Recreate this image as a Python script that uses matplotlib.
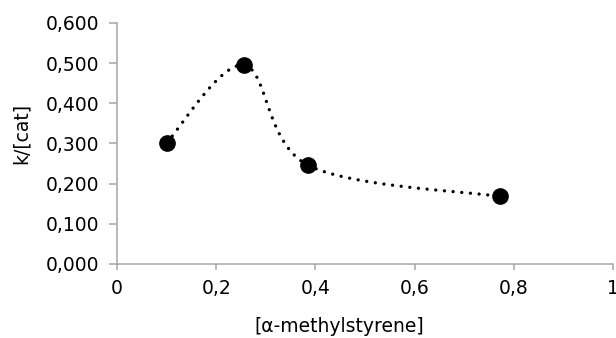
import numpy as np
import matplotlib
matplotlib.use("Agg")
import matplotlib.pyplot as plt
from matplotlib.ticker import FuncFormatter, MultipleLocator

plt.rcParams['font.family'] = ['DejaVu Sans']

# data
conc = [0.10, 0.256, 0.385, 0.772]
k_cat = [0.302, 0.495, 0.246, 0.168]


def excel_smooth(ax, xs, ys, n=40):
    # Excel style smoothed line: bezier segments with catmull-rom control points,
    # computed in display space so the shape follows the axes aspect
    pts = ax.transData.transform(np.column_stack([xs, ys]))
    m = len(pts)
    out = []
    for i in range(m - 1):
        p0 = pts[i - 1] if i > 0 else pts[i]
        p1 = pts[i]
        p2 = pts[i + 1]
        p3 = pts[i + 2] if i + 2 < m else pts[i + 1]
        c1 = p1 + (p2 - p0) / 6.0
        c2 = p2 - (p3 - p1) / 6.0
        t = np.linspace(0, 1, n)[:, None]
        seg = ((1 - t) ** 3) * p1 + 3 * ((1 - t) ** 2) * t * c1 + 3 * (1 - t) * t ** 2 * c2 + t ** 3 * p2
        out.append(seg if i == 0 else seg[1:])
    out = np.vstack(out)
    return ax.transData.inverted().transform(out)


fig = plt.figure(figsize=(6.16, 3.38), dpi=100)
ax = fig.add_axes([0.190, 0.219, 0.805, 0.713])
ax.set_xlim(0, 1)
ax.set_ylim(0, 0.6)

curve = excel_smooth(ax, conc, k_cat)
ax.plot(curve[:, 0], curve[:, 1], color='black', linewidth=2.4,
        linestyle=(0, (0.01, 2.6)), dash_capstyle='round')
ax.plot(conc, k_cat, 'o', color='black', markersize=11, zorder=3)

ax.xaxis.set_major_locator(MultipleLocator(0.2))
ax.yaxis.set_major_locator(MultipleLocator(0.1))
ax.xaxis.set_major_formatter(FuncFormatter(lambda v, p: ('%g' % round(v, 1)).replace('.', ',')))
ax.yaxis.set_major_formatter(FuncFormatter(lambda v, p: ('%.3f' % v).replace('.', ',')))

for s in ['top', 'right']:
    ax.spines[s].set_visible(False)
for s in ['left', 'bottom']:
    ax.spines[s].set_color('#a6a6a6')
    ax.spines[s].set_linewidth(1.1)
ax.tick_params(axis='y', direction='out', length=6, width=1.1, color='#a6a6a6',
               labelsize=13.5, pad=7)
ax.tick_params(axis='x', direction='out', length=4, width=1.1, color='#a6a6a6',
               labelsize=13.5, pad=7)

ax.set_ylabel('k/[cat]', fontsize=13.5, va='center')
ax.yaxis.set_label_coords(-0.1935, 0.541)
ax.set_xlabel('[α-methylstyrene]', fontsize=13.5, va='center')
ax.xaxis.set_label_coords(0.448, -0.26)

fig.savefig('out.png', dpi=100)
